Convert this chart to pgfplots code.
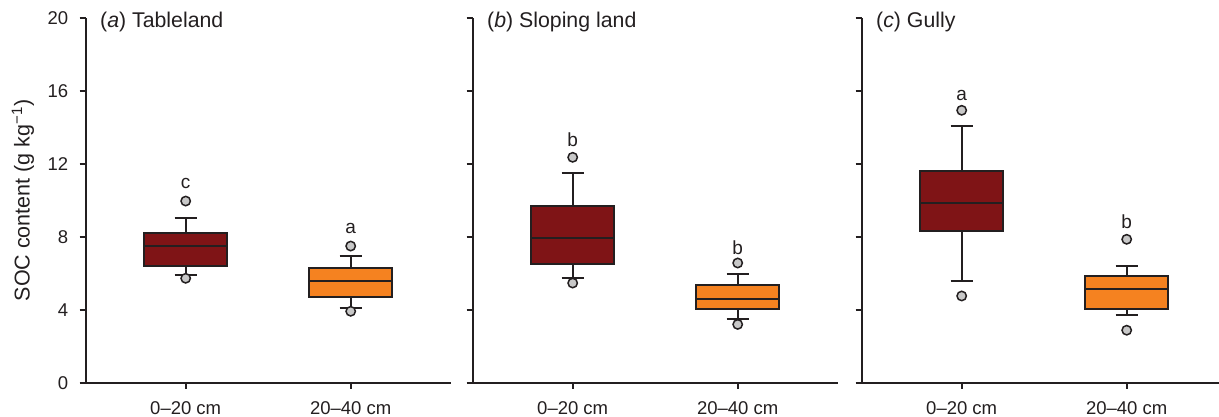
\documentclass[border=0pt]{standalone}
\usepackage{fontspec}
\setmainfont{Liberation Sans}
\usepackage{pgfplots}
\pgfplotsset{compat=1.18}
\usepgfplotslibrary{statistics}
\definecolor{dred}{HTML}{7F1416}
\definecolor{orng}{HTML}{F58220}
\definecolor{ink}{HTML}{231F20}
\definecolor{outl}{HTML}{C8C8C8}
\pgfplotsset{
  panel/.style={
    scale only axis, width=365pt, height=364.4pt,
    xmin=0.394, xmax=2.606, ymin=0, ymax=20,
    axis lines=left, axis line style={-, line width=2pt, ink},
    xtick={1,2}, xticklabels={0–20 cm, 20–40 cm},
    ytick={0,4,8,12,16,20},
    tick align=outside, major tick length=6pt,
    tick style={line width=2pt, ink},
    tick label style={font=\fontsize{18.5}{22}\selectfont, text=ink},
    yticklabel style={xshift=-8pt},
    xticklabel style={yshift=-9pt},
    /pgf/number format/assume math mode=true,
    clip=false,
  },
  bx/.style={
    draw=ink, line width=2pt, solid,
    boxplot/draw direction=y,
    boxplot/every box/.style={fill=#1, draw=ink, line width=2pt},
    boxplot/every whisker/.style={draw=ink, line width=2pt},
    boxplot/every median/.style={draw=ink, line width=2pt},
    mark=*, mark size=4.7pt,
    mark options={fill=outl, draw=ink, line width=1.5pt, solid},
  },
}
\tikzset{
  lett/.style={anchor=base, inner sep=0pt, font=\fontsize{19}{22}\selectfont, text=ink},
  ttl/.style={anchor=base west, inner sep=0pt, xshift=14.3pt, yshift=-9pt, font=\fontsize{21.3}{25}\selectfont, text=ink},
}
\begin{document}
\begin{tikzpicture}
% (a) Tableland
\begin{axis}[panel, at={(85.7pt,34.3pt)}, anchor=south west,
  ylabel={SOC content (g kg\textsuperscript{−1})},
  every axis y label/.style={at={(rel axis cs:0,0.5)}, xshift=-62.7pt, anchor=center, rotate=90, font=\fontsize{21.5}{25}\selectfont, text=ink},
]
\addplot[bx=dred, boxplot prepared={draw position=1, median=7.50, upper quartile=8.23, lower quartile=6.42, upper whisker=9.06, lower whisker=5.89, box extend=0.5, whisker extend=0.133}]
  table[row sep=\\, y index=0] {y\\ 9.97\\ 5.73\\};
\addplot[bx=orng, boxplot prepared={draw position=2, median=5.60, upper quartile=6.31, lower quartile=4.72, upper whisker=6.97, lower whisker=4.12, box extend=0.5, whisker extend=0.133}]
  table[row sep=\\, y index=0] {y\\ 7.50\\ 3.92\\};
\node[lett] at (axis cs:1,10.67) {c};
\node[lett] at (axis cs:2,8.20) {a};
\node[ttl] at (rel axis cs:0,1) {(\textit{a}) Tableland};
\end{axis}
% (b) Sloping land
\begin{axis}[panel, at={(472.7pt,34.3pt)}, anchor=south west, yticklabels={}]
\addplot[bx=dred, boxplot prepared={draw position=1, median=7.96, upper quartile=9.72, lower quartile=6.50, upper whisker=11.53, lower whisker=5.76, box extend=0.5, whisker extend=0.133}]
  table[row sep=\\, y index=0] {y\\ 12.37\\ 5.47\\};
\addplot[bx=orng, boxplot prepared={draw position=2, median=4.61, upper quartile=5.36, lower quartile=4.06, upper whisker=5.95, lower whisker=3.51, box extend=0.5, whisker extend=0.133}]
  table[row sep=\\, y index=0] {y\\ 6.57\\ 3.20\\};
\node[lett] at (axis cs:1,12.95) {b};
\node[lett] at (axis cs:2,7.06) {b};
\node[ttl] at (rel axis cs:0,1) {(\textit{b}) Sloping land};
\end{axis}
% (c) Gully
\begin{axis}[panel, at={(861.7pt,34.3pt)}, anchor=south west, yticklabels={}, xmax=2.56, width=357.4pt]
\addplot[bx=dred, boxplot prepared={draw position=1, median=9.85, upper quartile=11.60, lower quartile=8.34, upper whisker=14.09, lower whisker=5.58, box extend=0.5, whisker extend=0.133}]
  table[row sep=\\, y index=0] {y\\ 14.95\\ 4.76\\};
\addplot[bx=orng, boxplot prepared={draw position=2, median=5.14, upper quartile=5.86, lower quartile=4.06, upper whisker=6.39, lower whisker=3.73, box extend=0.5, whisker extend=0.133}]
  table[row sep=\\, y index=0] {y\\ 7.87\\ 2.88\\};
\node[lett] at (axis cs:1,15.48) {a};
\node[lett] at (axis cs:2,8.47) {b};
\node[ttl] at (rel axis cs:0,1) {(\textit{c}) Gully};
\end{axis}
\pgfresetboundingbox
\path[use as bounding box] (0,0) rectangle (1219pt,417pt);
\end{tikzpicture}
\end{document}
